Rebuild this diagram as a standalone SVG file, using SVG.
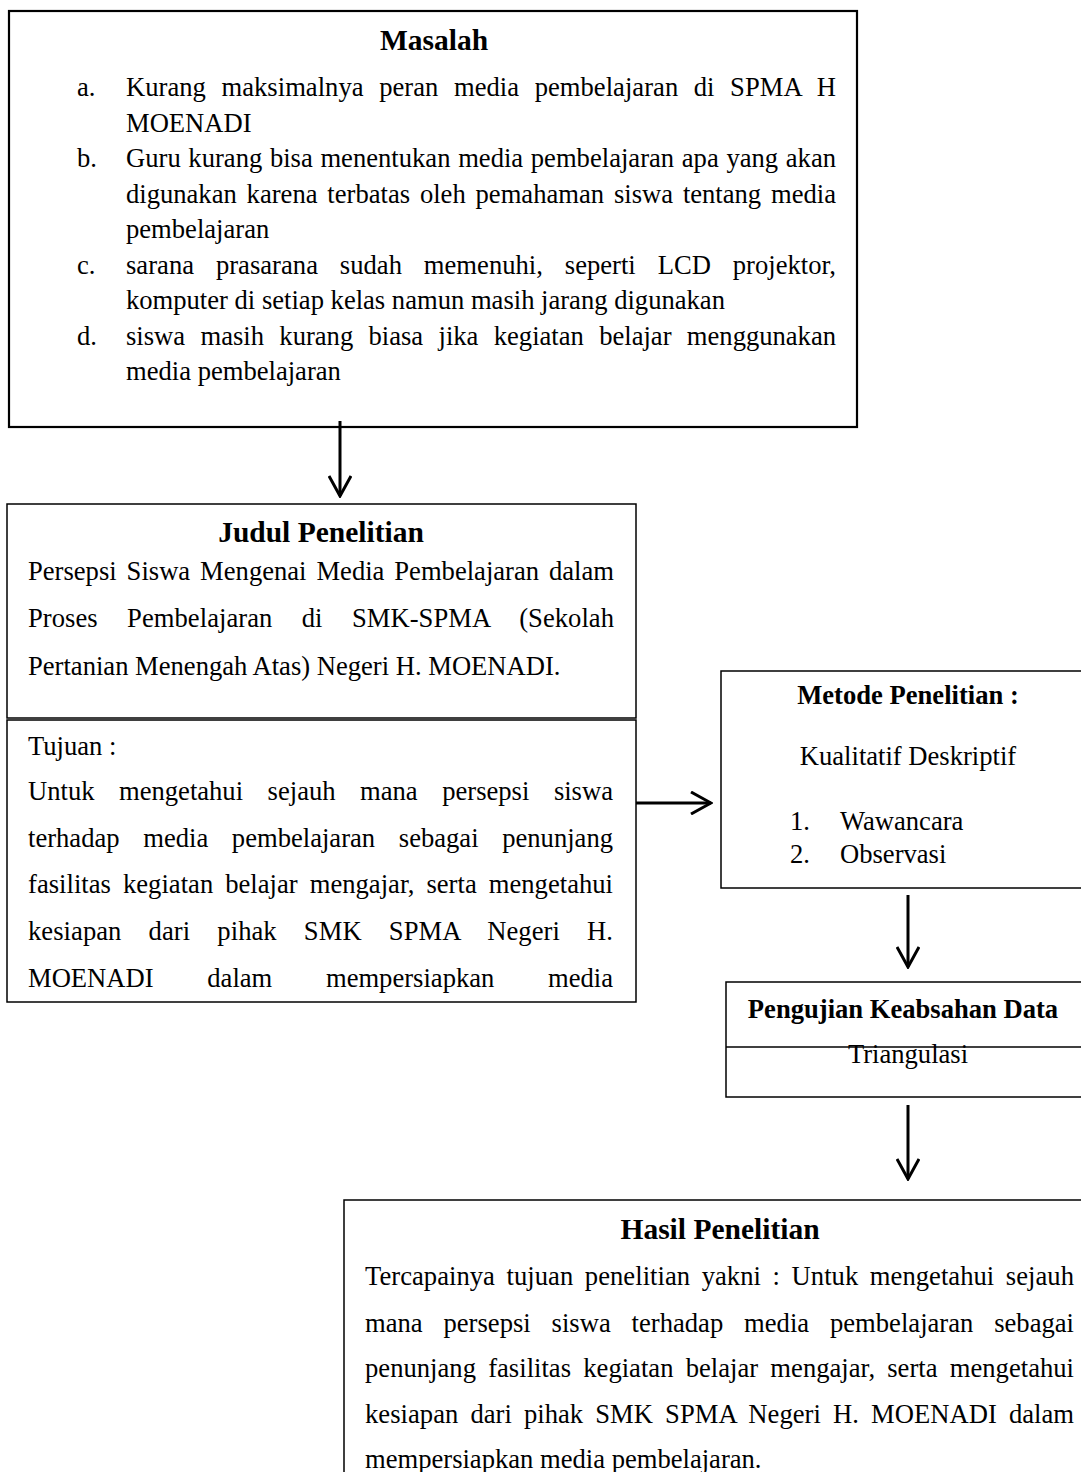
<svg xmlns="http://www.w3.org/2000/svg" width="1081" height="1472" viewBox="0 0 1081 1472">
<style>
.t{font-family:"Liberation Serif","Times New Roman",serif;font-size:26.6px;fill:#000}
.b{font-weight:bold;text-anchor:middle}
.big{font-size:29.5px}
.m{text-anchor:middle}
.box{fill:#fff;stroke:#000;stroke-width:1.5}
.box2{fill:#fff;stroke:#000;stroke-width:2.2}
.c{fill:none;stroke:#000;stroke-width:3}
</style>
<defs>
<marker id="ah" markerUnits="userSpaceOnUse" viewBox="0 0 24 24" refX="22" refY="12" markerWidth="24" markerHeight="24" orient="auto">
<path d="M2,1 L22,12 L2,23" fill="none" stroke="#000" stroke-width="3"/>
</marker>
</defs>
<rect x="0" y="0" width="1081" height="1472" fill="#fff"/>

<g id="masalah">
<rect class="box2" x="9" y="11" width="848" height="416"/>
<text class="t b big" x="434" y="50">Masalah</text>
<text class="t" x="77" y="96">a.</text>
<text class="t" x="126" y="96" textLength="710" lengthAdjust="spacing" style="word-spacing:8.9px">Kurang maksimalnya peran media pembelajaran di SPMA H</text>
<text class="t" x="126" y="131.5">MOENADI</text>
<text class="t" x="77" y="167">b.</text>
<text class="t" x="126" y="167" textLength="710" lengthAdjust="spacing" style="word-spacing:1px">Guru kurang bisa menentukan media pembelajaran apa yang akan</text>
<text class="t" x="126" y="202.5" textLength="710" lengthAdjust="spacing" style="word-spacing:3.2px">digunakan karena terbatas oleh pemahaman siswa tentang media</text>
<text class="t" x="126" y="238">pembelajaran</text>
<text class="t" x="77" y="273.5">c.</text>
<text class="t" x="126" y="273.5" textLength="710" lengthAdjust="spacing" style="word-spacing:15.2px">sarana prasarana sudah memenuhi, seperti LCD projektor,</text>
<text class="t" x="126" y="309">komputer di setiap kelas namun masih jarang digunakan</text>
<text class="t" x="77" y="344.5">d.</text>
<text class="t" x="126" y="344.5" textLength="710" lengthAdjust="spacing" style="word-spacing:8.7px">siswa masih kurang biasa jika kegiatan belajar menggunakan</text>
<text class="t" x="126" y="380">media pembelajaran</text>
</g>

<g id="judul">
<rect class="box" x="7" y="504" width="629" height="214"/>
<text class="t b big" x="321" y="542">Judul Penelitian</text>
<text class="t" x="28" y="580" textLength="586" lengthAdjust="spacing" style="word-spacing:3.3px">Persepsi Siswa Mengenai Media Pembelajaran dalam</text>
<text class="t" x="28" y="627" textLength="586" lengthAdjust="spacing" style="word-spacing:22.7px">Proses Pembelajaran di SMK-SPMA (Sekolah</text>
<text class="t" x="28" y="675">Pertanian Menengah Atas) Negeri H. MOENADI.</text>
</g>

<g id="tujuan">
<rect class="box" x="7" y="720" width="629" height="282"/>
<text class="t" x="28" y="755">Tujuan :</text>
<text class="t" x="28" y="800" textLength="585" lengthAdjust="spacing" style="word-spacing:17.9px">Untuk mengetahui sejauh mana persepsi siswa</text>
<text class="t" x="28" y="847" textLength="585" lengthAdjust="spacing" style="word-spacing:17px">terhadap media pembelajaran sebagai penunjang</text>
<text class="t" x="28" y="893" textLength="585" lengthAdjust="spacing" style="word-spacing:5.3px">fasilitas kegiatan belajar mengajar, serta mengetahui</text>
<text class="t" x="28" y="940" textLength="585" lengthAdjust="spacing" style="word-spacing:20.5px">kesiapan dari pihak SMK SPMA Negeri H.</text>
<text class="t" x="28" y="987" textLength="585" lengthAdjust="spacing" style="word-spacing:47px">MOENADI dalam mempersiapkan media</text>
</g>

<g id="metode">
<rect class="box" x="721" y="671" width="420" height="217"/>
<text class="t b" x="908" y="704">Metode Penelitian :</text>
<text class="t m" x="908" y="765">Kualitatif Deskriptif</text>
<text class="t" x="790" y="830">1.</text>
<text class="t" x="840" y="830">Wawancara</text>
<text class="t" x="790" y="863">2.</text>
<text class="t" x="840" y="863">Observasi</text>
</g>

<g id="pengujian">
<rect class="box" x="726" y="982" width="420" height="115"/>
<line x1="726" y1="1047" x2="1081" y2="1047" stroke="#000" stroke-width="1.5"/>
<text class="t b" x="903" y="1018">Pengujian Keabsahan Data</text>
<text class="t m" x="908" y="1063">Triangulasi</text>
</g>

<g id="hasil">
<rect class="box" x="344" y="1200" width="800" height="400"/>
<text class="t b big" x="720" y="1239">Hasil Penelitian</text>
<text class="t" x="365" y="1285" textLength="709" lengthAdjust="spacing" style="word-spacing:4.9px">Tercapainya tujuan penelitian yakni : Untuk mengetahui sejauh</text>
<text class="t" x="365" y="1332" textLength="709" lengthAdjust="spacing" style="word-spacing:14.2px">mana persepsi siswa terhadap media pembelajaran sebagai</text>
<text class="t" x="365" y="1377" textLength="709" lengthAdjust="spacing" style="word-spacing:5.5px">penunjang fasilitas kegiatan belajar mengajar, serta mengetahui</text>
<text class="t" x="365" y="1423" textLength="709" lengthAdjust="spacing" style="word-spacing:5.4px">kesiapan dari pihak SMK SPMA Negeri H. MOENADI dalam</text>
<text class="t" x="365" y="1468">mempersiapkan media pembelajaran.</text>
</g>

<g id="connectors">
<line class="c" x1="340" y1="421" x2="340" y2="496" marker-end="url(#ah)"/>
<line class="c" x1="636" y1="803" x2="711" y2="803" marker-end="url(#ah)"/>
<line class="c" x1="908" y1="895" x2="908" y2="967" marker-end="url(#ah)"/>
<line class="c" x1="908" y1="1105" x2="908" y2="1179" marker-end="url(#ah)"/>
</g>
</svg>
